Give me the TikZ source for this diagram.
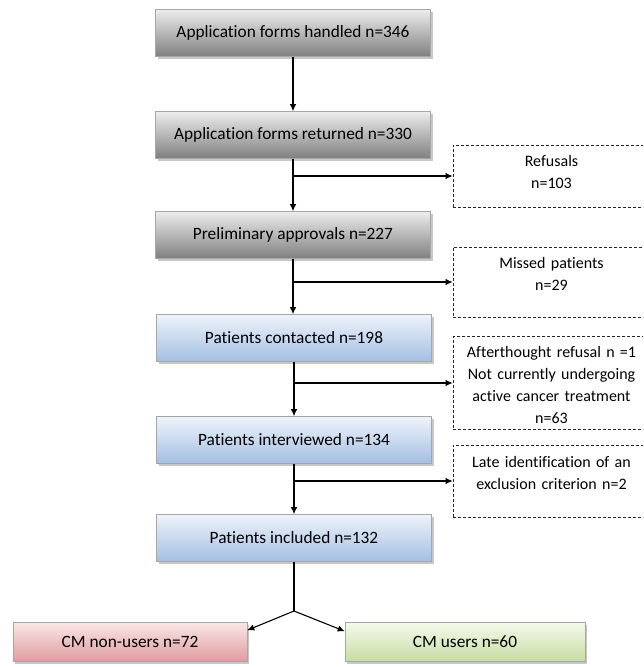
\documentclass[tikz,border=0pt]{standalone}
\usepackage{fontspec}
\setmainfont[Ligatures=NoCommon]{Carlito}
\usetikzlibrary{arrows.meta,shadows,calc}
\definecolor{graytop}{HTML}{EDEDED}
\definecolor{graybot}{HTML}{7F7F7F}
\definecolor{bluetop}{HTML}{EEF3FA}
\definecolor{bluebot}{HTML}{A3BFE3}
\definecolor{redtop}{HTML}{FAE6E6}
\definecolor{redbot}{HTML}{DE9C9F}
\definecolor{greentop}{HTML}{F4F9EA}
\definecolor{greenbot}{HTML}{C8DCA3}
\begin{document}
\begin{tikzpicture}[x=1pt,y=-1pt,
  box/.style={draw=gray!70, line width=0.6pt, minimum height=47pt, minimum width=275pt,
     font=\fontsize{17.3}{21}\selectfont, inner sep=0pt,
     drop shadow={shadow xshift=2pt, shadow yshift=-2.5pt, fill=gray!55, opacity=0.8}},
  graybox/.style={box, top color=graytop, bottom color=graybot},
  bluebox/.style={box, top color=bluetop, bottom color=bluebot},
  redbox/.style={box, minimum height=39pt, top color=redtop, bottom color=redbot},
  greenbox/.style={box, minimum height=39pt, top color=greentop, bottom color=greenbot},
  dbox/.style={draw=black!85, dashed, dash pattern=on 3pt off 2pt, line width=0.7pt,
     minimum width=197pt, inner sep=0pt},
  dtext/.style={text width=195pt, align=center, inner sep=0pt,
     font=\fontsize{16}{21.7}\selectfont},
  arr/.style={line width=1.1pt, -{Latex[length=7pt,width=6.5pt]}},
  ln/.style={line width=1.1pt}]
\useasboundingbox (0,0) rectangle (643,667);
\clip (0,0) rectangle (643,667);
\fill[white] (0,0) rectangle (643,667);

\node[graybox] (b1) at (293,33) {Application forms handled n=346};
\node[graybox] (b2) at (293,135) {Application forms returned n=330};
\node[graybox] (b3) at (293,235) {Preliminary approvals n=227};
\node[bluebox] (b4) at (294,338) {Patients contacted n=198};
\node[bluebox] (b5) at (294,440) {Patients interviewed n=134};
\node[bluebox] (b6) at (294,538) {Patients included n=132};

\node[dbox, minimum height=62pt] (d1) at (551.5,176) {};
\node[dbox, minimum height=70pt] (d2) at (551.5,282) {};
\node[dbox, minimum height=93pt] (d3) at (551.5,383) {};
\node[dbox, minimum height=72pt] (d4) at (551.5,481) {};
\node[dtext] (t1) at ([yshift=4pt]d1.center) {Refusals\\n=103};
\node[dtext] (t2) at ([yshift=8pt]d2.center) {Missed patients\\n=29};
\node[dtext] (t3) at ([yshift=-2pt]d3.center) {Afterthought refusal n =1\\Not currently undergoing\\active cancer treatment\\n=63};
\node[dtext] (t4) at ([yshift=8pt]d4.center) {Late identification of an\\exclusion criterion n=2};

\node[redbox, minimum width=234pt] (cl) at (130,642) {CM non-users n=72};
\node[greenbox, minimum width=240pt] (cu) at (465,642) {CM users n=60};

\draw[arr] (b1.south) -- (b2.north);
\draw[arr] (b2.south) -- (b3.north);
\draw[arr] (b3.south) -- (b3.south |- b4.north);
\draw[arr] (b4.south) -- (b5.north);
\draw[arr] (b5.south) -- (b6.north);

\draw[arr] (b2.south |- d1.west) -- (d1.west);
\draw[arr] (b3.south |- d2.west) -- (d2.west);
\draw[arr] (b4.south |- d3.west) -- (d3.west);
\draw[arr] (b5.south |- d4.west) -- (d4.west);

\coordinate (split) at (294,611);
\draw[ln] (b6.south) -- (split);
\draw[arr] (split) -- ([yshift=-8pt]cl.north east);
\draw[arr] (split) -- ([yshift=-9pt]cu.north west);
\end{tikzpicture}
\end{document}
